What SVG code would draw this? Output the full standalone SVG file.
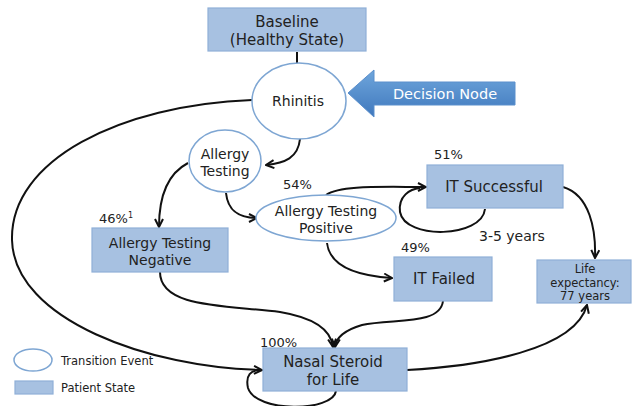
<svg xmlns="http://www.w3.org/2000/svg" width="633" height="406" viewBox="0 0 633 406">
<defs>
<style>
.st{fill:#a7c1e1;stroke:#8fb0d8;stroke-width:1.2}
.ev{fill:#fff;stroke:#7ea6d3;stroke-width:1.5}
.t{font-family:"DejaVu Sans",sans-serif;fill:#222;text-anchor:middle}
.c{fill:none;stroke:#111;stroke-width:2}
</style>
<marker id="ah" viewBox="0 0 10 10" refX="9" refY="5" markerWidth="5" markerHeight="5" orient="auto" markerUnits="strokeWidth">
<path d="M1,1 L9,5 L1,9" fill="none" stroke="#111" stroke-width="2"/>
</marker>
<linearGradient id="dg" x1="0" y1="0" x2="0" y2="1">
<stop offset="0" stop-color="#6fa6dc"/>
<stop offset="1" stop-color="#3f78bd"/>
</linearGradient>
</defs>
<rect width="633" height="406" fill="#fff"/>
<g id="connectors">
<path class="c" d="M297,52 L297,63"/>
<path class="c" d="M300,139 C298,158 285,163 266,165" marker-end="url(#ah)"/>
<path class="c" d="M188,163 C165,175 159,200 159,227" marker-end="url(#ah)"/>
<path class="c" d="M226,193 C228,212 240,218 257,218" marker-end="url(#ah)"/>
<path class="c" d="M326,195 C340,185 380,187 426,187" marker-end="url(#ah)"/>
<path class="c" d="M485,209 C482,238 405,240 400,212 C398,196 410,189 420,188"/>
<path class="c" d="M327,243 C330,268 360,276 392,278" marker-end="url(#ah)"/>
<path class="c" d="M563,187 C590,195 596,230 595,258" marker-end="url(#ah)"/>
<path class="c" d="M252,100 C120,105 10,160 12,240 C14,320 150,368 262,370" marker-end="url(#ah)"/>
<path class="c" d="M160,272 C160,308 225,305 280,312 C316,318 331,330 333,347" marker-end="url(#ah)"/>
<path class="c" d="M443,301 C440,326 392,318 362,325 C345,330 336,338 335,347" marker-end="url(#ah)"/>
<path class="c" d="M336,391 C333,412 256,413 248,388 C245,374 252,371 258,370"/>
<path class="c" d="M407,370 C480,366 575,350 587,305" marker-end="url(#ah)"/>
</g>
<g id="baseline">
<rect class="st" x="208" y="8" width="158" height="43"/>
<text class="t" x="287" y="27" font-size="15">Baseline</text>
<text class="t" x="287" y="45" font-size="15">(Healthy State)</text>
</g>
<g id="rhinitis">
<ellipse class="ev" cx="299" cy="101" rx="47" ry="38"/>
<text class="t" x="298" y="106" font-size="14">Rhinitis</text>
</g>
<g id="decision-node">
<path d="M348,93 L374,70 L374,82 L515,82 L515,105 L374,105 L374,117 Z" fill="url(#dg)" stroke="#5b8fcc" stroke-width="1"/>
<text class="t" x="445" y="99" font-size="14.5" style="fill:#fff">Decision Node</text>
</g>
<g id="allergy-testing">
<ellipse class="ev" cx="225" cy="161" rx="36" ry="31"/>
<text class="t" x="225" y="159" font-size="14">Allergy</text>
<text class="t" x="225" y="176" font-size="14">Testing</text>
</g>
<g id="allergy-negative">
<text x="99" y="223" font-family="DejaVu Sans, sans-serif" font-size="13" fill="#222">46%<tspan font-size="8" dy="-5">1</tspan></text>
<rect class="st" x="92" y="228" width="136" height="44"/>
<text class="t" x="160" y="248" font-size="14">Allergy Testing</text>
<text class="t" x="160" y="265" font-size="14">Negative</text>
</g>
<g id="allergy-positive">
<text x="283" y="189" font-family="DejaVu Sans, sans-serif" font-size="13" fill="#222">54%</text>
<ellipse class="ev" cx="326" cy="218" rx="70" ry="23"/>
<text class="t" x="326" y="216" font-size="14">Allergy Testing</text>
<text class="t" x="326" y="233" font-size="14">Positive</text>
</g>
<g id="it-successful">
<text x="434" y="159" font-family="DejaVu Sans, sans-serif" font-size="13" fill="#222">51%</text>
<rect class="st" x="427" y="165" width="136" height="43"/>
<text class="t" x="494" y="192" font-size="15">IT Successful</text>
<text x="479" y="241" font-family="DejaVu Sans, sans-serif" font-size="14" fill="#222">3-5 years</text>
</g>
<g id="it-failed">
<text x="401" y="252" font-family="DejaVu Sans, sans-serif" font-size="13" fill="#222">49%</text>
<rect class="st" x="394" y="257" width="98" height="44"/>
<text class="t" x="444" y="284" font-size="15">IT Failed</text>
</g>
<g id="life-expectancy">
<rect class="st" x="537" y="260" width="94" height="43"/>
<text class="t" x="585" y="273" font-size="11.5">Life</text>
<text class="t" x="585" y="287" font-size="11.5">expectancy:</text>
<text class="t" x="585" y="300" font-size="11.5">77 years</text>
</g>
<g id="nasal-steroid">
<text x="260" y="347" font-family="DejaVu Sans, sans-serif" font-size="13" fill="#222">100%</text>
<rect class="st" x="263" y="348" width="144" height="43"/>
<text class="t" x="333" y="367" font-size="15">Nasal Steroid</text>
<text class="t" x="333" y="385" font-size="15">for Life</text>
</g>
<g id="legend">
<ellipse class="ev" cx="33" cy="360" rx="19" ry="11"/>
<text x="61" y="365" font-family="DejaVu Sans, sans-serif" font-size="11.5" fill="#222">Transition Event</text>
<rect class="st" x="15" y="381" width="38" height="13"/>
<text x="61" y="392" font-family="DejaVu Sans, sans-serif" font-size="11.5" fill="#222">Patient State</text>
</g>
</svg>
